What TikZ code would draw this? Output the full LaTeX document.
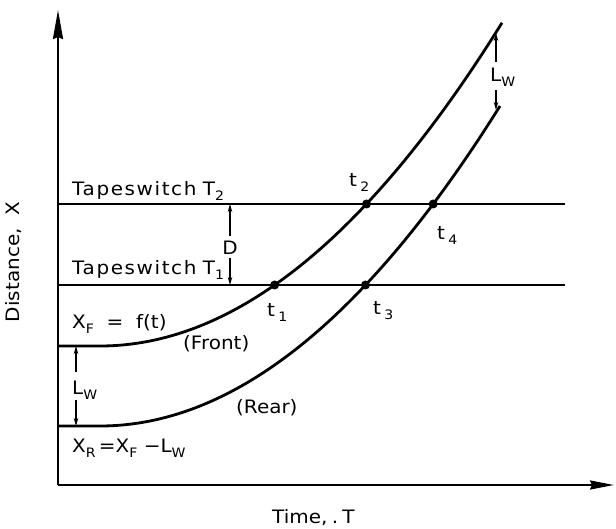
\documentclass[tikz,border=0pt]{standalone}
\usepackage{fontspec}
\setmainfont{DejaVu Sans}
\usepackage{graphicx}
\usetikzlibrary{arrows.meta}
\newcommand\lbl[1]{\scalebox{1.08}[1]{#1}}
\newcommand\wide[1]{{\addfontfeature{LetterSpace=8}#1}}
\newcommand\lowsub[1]{\raisebox{-5pt}{\fontsize{13}{13}\selectfont #1}}
\tikzset{
  axisline/.style={line width=2.2pt},
  curveline/.style={line width=2.8pt, line join=round},
  tapeline/.style={line width=1.4pt},
  dimarrow/.style={line width=1.1pt, -{Stealth[length=8pt,width=4.5pt]}},
  dotnode/.style={circle, fill=black, inner sep=0pt, minimum size=9pt},
  txtlbl/.style={inner sep=0pt, anchor=base west, font=\fontsize{18.5}{20}\selectfont},
}
\begin{document}
\begin{tikzpicture}[x=1pt,y=-1pt]
\useasboundingbox (0,0) rectangle (616,529);
% axes
\coordinate (O) at (58,485);
\coordinate (ytip) at (58,10);
\coordinate (xtip) at (614,485);
\draw[axisline,-{Stealth[length=29pt,width=10pt,inset=2pt]}] (O) -- (ytip);
\draw[axisline,-{Stealth[length=24pt,width=9pt,inset=2pt]}] (O) -- (xtip);
% tapeswitch lines
\coordinate (T2a) at (58,204); \coordinate (T2b) at (565,204);
\coordinate (T1a) at (58,285); \coordinate (T1b) at (565,285);
\draw[tapeline] (T2a) -- (T2b);
\draw[tapeline] (T1a) -- (T1b);
% curves
\coordinate (Fa) at (58,346); \coordinate (Fb) at (100,346);
\coordinate (Ra) at (58,426); \coordinate (Rb) at (100,426);
\draw[curveline] (Fa) -- (Fb) -- plot[domain=100:502,samples=80] (\x,{346-0.2*((\x-100)/10)^2});
\draw[curveline] (Ra) -- (Rb) -- plot[domain=100:500,samples=80] (\x,{426-0.2*((\x-100)/10)^2});
% intersection dots
\node[dotnode] (d1) at (274.6,285) {};
\node[dotnode] (d2) at (366.5,204) {};
\node[dotnode] (d3) at (365.5,285) {};
\node[dotnode] (d4) at (433.2,204) {};
% labels
\node[txtlbl] (lT2) at (72,196) {\lbl{\wide{Tapeswitch}\ T\lowsub{2}}};
\node[txtlbl] (lT1) at (72,275) {\lbl{\wide{Tapeswitch}\ T\lowsub{1}}};
\node[txtlbl] (lt1) at (267,317) {\lbl{t\,\lowsub{1}}};
\node[txtlbl] (lt2) at (349,187) {\lbl{t\,\lowsub{2}}};
\node[txtlbl] (lt3) at (373,315) {\lbl{t\,\lowsub{3}}};
\node[txtlbl] (lt4) at (437,240) {\lbl{t\,\lowsub{4}}};
\node[txtlbl] (lXF) at (72,329) {\lbl{X\lowsub{F}\ \ =\ \ f(t)}};
\node[txtlbl] (lFront) at (183,350) {\lbl{(Front)}};
\node[txtlbl] (lRear) at (236,413) {\lbl{(Rear)}};
\node[txtlbl] (lXR) at (72,452) {\lbl{X\lowsub{R}\,=X\lowsub{F}\ −L\lowsub{W}}};
\node[txtlbl] (lLW1) at (72,395) {\lbl{L\lowsub{W}}};
\node[txtlbl] (lLW2) at (490,82) {\lbl{L\lowsub{W}}};
\node[inner sep=0pt, font=\fontsize{18.5}{20}\selectfont] (lD) at (230,247.5) {\lbl{D}};
\node[txtlbl] (lTime) at (272,523) {\lbl{Time,\hspace{4pt}.\hspace{4pt}T}};
\node[inner sep=0pt, rotate=90, font=\fontsize{18.5}{20}\selectfont] (lDist) at (14,262) {\lbl{Distance,\ \ X}};
% D dimension
\coordinate (Dup) at (230,236); \coordinate (Dtop) at (230,204);
\coordinate (Ddn) at (230,258); \coordinate (Dbot) at (230,285);
\draw[dimarrow] (Dup) -- (Dtop);
\draw[dimarrow] (Ddn) -- (Dbot);
% left Lw dimension
\coordinate (LAu) at (76,372); \coordinate (LAtop) at (76,346);
\coordinate (LAd) at (76,400); \coordinate (LAbot) at (76,426);
\draw[dimarrow] (LAu) -- (LAtop);
\draw[dimarrow] (LAd) -- (LAbot);
% right Lw dimension
\coordinate (RAu) at (496,62); \coordinate (RAtop) at (496,33);
\coordinate (RAd) at (496,90); \coordinate (RAbot) at (496,110);
\draw[dimarrow] (RAu) -- (RAtop);
\draw[dimarrow] (RAd) -- (RAbot);
\end{tikzpicture}
\end{document}
